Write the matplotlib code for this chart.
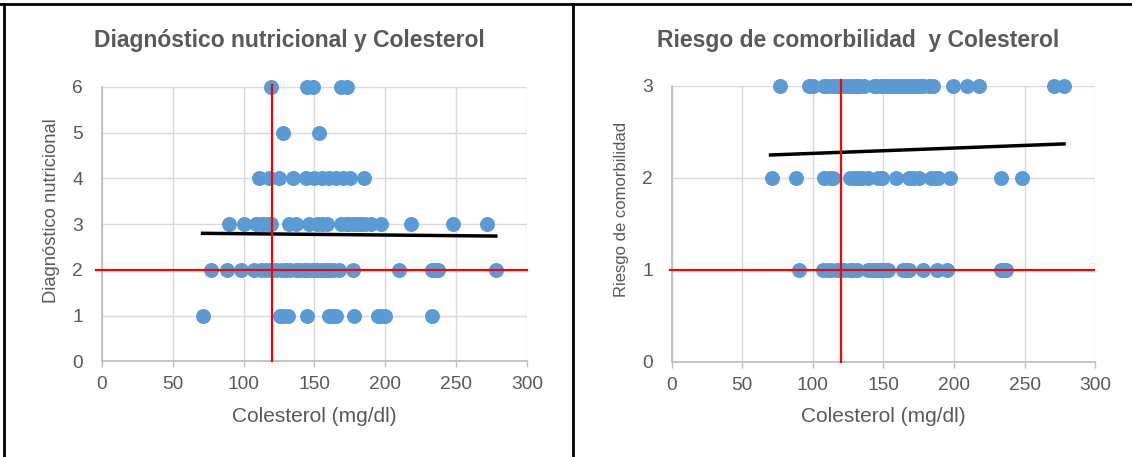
import matplotlib
matplotlib.use('Agg')
import matplotlib.pyplot as plt
from matplotlib.lines import Line2D

plt.rcParams['font.family'] = ['Liberation Sans', 'DejaVu Sans']

# Colesterol (mg/dl) de cada paciente, agrupado por diagnóstico nutricional
diag1_chol = [71, 126, 128, 131, 145, 160, 163, 165, 178, 195, 197, 200, 233]
diag2_chol = [77, 88, 98, 107, 112, 116, 119, 123, 127, 130, 133, 137, 140, 143, 145,
              148, 150, 152, 155, 158, 160, 163, 167, 177, 210, 233, 235, 237, 278]
diag3_chol = [90, 100, 109, 112, 114, 117, 119, 132, 137, 146, 152, 155, 159, 169, 172,
              174, 177, 180, 183, 186, 190, 197, 218, 248, 272]
diag4_chol = [111, 118, 125, 135, 144, 150, 155, 160, 165, 170, 175, 185]
diag5_chol = [128, 153]
diag6_chol = [119, 145, 149, 169, 173]

# Colesterol (mg/dl) agrupado por riesgo de comorbilidad
riesgo1_chol = [90, 107, 111, 113, 117, 119, 122, 126, 128, 131, 139, 141, 143, 145, 147,
                149, 151, 153, 164, 166, 168, 178, 188, 195, 233, 235, 237]
riesgo2_chol = [71, 88, 108, 112, 114, 126, 129, 132, 135, 139, 146, 149, 159, 168, 171,
                175, 184, 187, 189, 197, 233, 248]
riesgo3_chol = [77, 97, 100, 108, 111, 114, 117, 119, 122, 124, 127, 129, 131, 133, 136,
                143, 145, 148, 150, 152, 155, 157, 159, 162, 164, 166, 169, 171, 173, 176,
                178, 182, 185, 199, 209, 218, 271, 278]

# Líneas de tendencia lineal (extremos)
trend_diag_x = [71, 278]
trend_diag_y = [2.80, 2.74]
trend_riesgo_x = [70, 278]
trend_riesgo_y = [2.25, 2.37]

# Valores de referencia
chol_ref = 120
diag_ref = 2
riesgo_ref = 1

TXT = '#595959'
BLUE = '#5b9bd5'


def style(ax, ymax):
    ax.set_xlim(0, 300)
    ax.set_ylim(0, ymax)
    ax.set_xticks(range(0, 301, 50))
    ax.set_yticks(range(0, ymax + 1))
    ax.grid(True, color='#d9d9d9', lw=1.0)
    ax.set_axisbelow(True)
    for s in ['top', 'right']:
        ax.spines[s].set_visible(False)
    for s in ['left', 'bottom']:
        ax.spines[s].set_color('#bfbfbf')
        ax.spines[s].set_linewidth(1.3)
    ax.tick_params(axis='x', length=4, width=1, color='#bfbfbf', pad=6.5,
                   labelsize=13.8, labelcolor=TXT)
    ax.tick_params(axis='y', length=0, pad=13.5, labelsize=13.8, labelcolor=TXT)
    ax.set_xlabel('Colesterol (mg/dl)', fontsize=15, color=TXT, labelpad=10)


def dots(ax, chol, level):
    ax.plot(chol, [level] * len(chol), 'o', ms=10.8, color=BLUE, mec='none',
            clip_on=False, zorder=3)


fig = plt.figure(figsize=(11.32, 4.57), dpi=100)
ax1 = fig.add_axes([0.0901, 0.209, 0.3754, 0.601])
ax2 = fig.add_axes([0.5934, 0.2079, 0.374, 0.604])

# Panel izquierdo
style(ax1, 6)
for lvl, chol in zip(range(1, 7), [diag1_chol, diag2_chol, diag3_chol,
                                   diag4_chol, diag5_chol, diag6_chol]):
    dots(ax1, chol, lvl)
ax1.plot(trend_diag_x, trend_diag_y, color='black', lw=2.5, zorder=4)
ax1.plot([chol_ref, chol_ref], [0, 6.05], color='red', lw=1.6, clip_on=False, zorder=5)
ax1.plot([-4, 300], [diag_ref, diag_ref], color='red', lw=1.6, clip_on=False, zorder=5)
ax1.set_ylabel('Diagnóstico nutricional', fontsize=13.2, color=TXT, va='center')
ax1.yaxis.set_label_coords(-0.118, 0.551)

# Panel derecho
style(ax2, 3)
for lvl, chol in zip(range(1, 4), [riesgo1_chol, riesgo2_chol, riesgo3_chol]):
    dots(ax2, chol, lvl)
ax2.plot(trend_riesgo_x, trend_riesgo_y, color='black', lw=2.5, zorder=4)
ax2.plot([chol_ref, chol_ref], [0, 3.07], color='red', lw=1.6, clip_on=False, zorder=5)
ax2.plot([-1, 299], [riesgo_ref, riesgo_ref], color='red', lw=1.6, clip_on=False, zorder=5)
ax2.set_ylabel('Riesgo de comorbilidad', fontsize=12, color=TXT, va='center')
ax2.yaxis.set_label_coords(-0.118, 0.551)

# Títulos
fig.text(289 / 1132, 1 - 47 / 457, 'Diagnóstico nutricional y Colesterol',
         ha='center', va='baseline', fontsize=16.5, fontweight='bold', color=TXT)
fig.text(858 / 1132, 1 - 47 / 457, 'Riesgo de comorbilidad  y Colesterol',
         ha='center', va='baseline', fontsize=16.5, fontweight='bold', color=TXT)

# Marco de la tabla
fr = dict(transform=fig.transFigure, color='black', lw=2)
fig.add_artist(Line2D([0, 1], [1 - 4 / 457, 1 - 4 / 457], **fr))
fig.add_artist(Line2D([4 / 1132, 4 / 1132], [0, 1 - 4 / 457], **fr))
fig.add_artist(Line2D([573 / 1132, 573 / 1132], [0, 1 - 4 / 457], **fr))

fig.savefig('out.png', dpi=100, facecolor='white')
